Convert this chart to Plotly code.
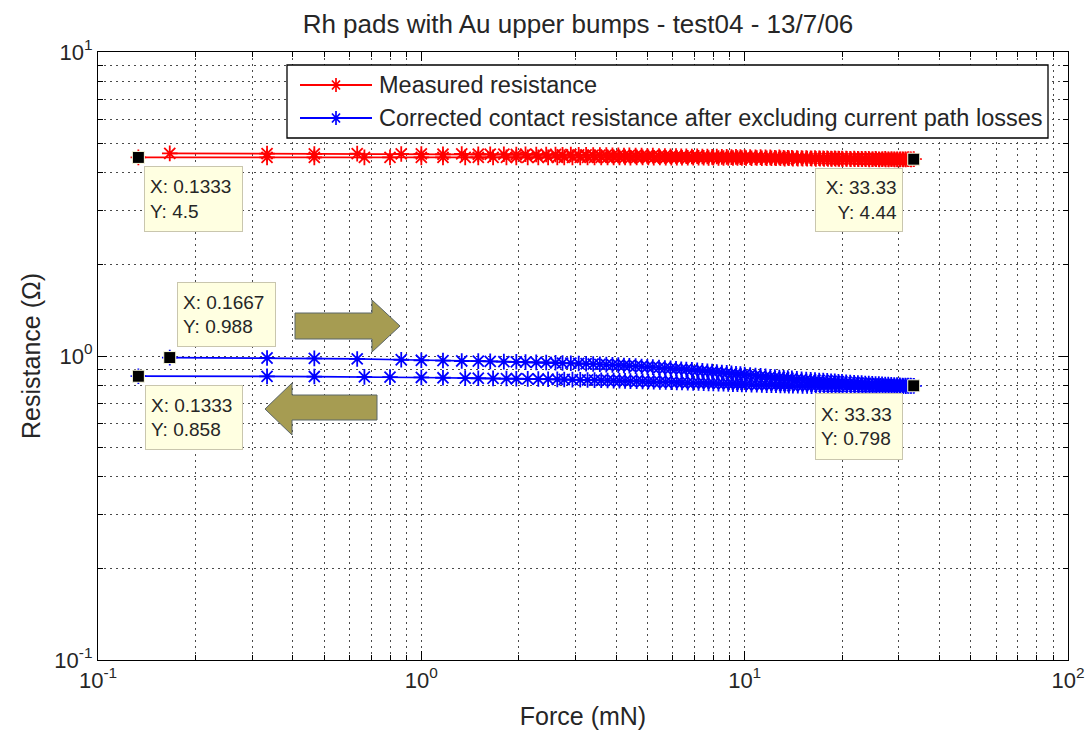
import plotly.graph_objects as go

# ---------------- data ----------------
force_up = [0.1667, 0.3333, 0.4667, 0.6333, 0.8667, 1.0, 1.1667, 1.3333, 1.5, 1.6333,
            1.8, 1.9667, 2.1, 2.2667, 2.4333, 2.6, 2.7333, 2.9, 3.0667, 3.2333,
            3.4, 3.5667, 3.7333, 3.9, 4.0667, 4.2333, 4.4, 4.6, 4.8, 5.0,
            5.2, 5.4333, 5.6667, 5.9, 6.1333, 6.3667, 6.6, 6.8667, 7.1333, 7.4,
            7.6667, 7.9333, 8.2, 8.5, 8.8, 9.1, 9.4, 9.7, 10.0, 10.4,
            10.8, 11.2, 11.6, 12.0, 12.4, 12.8, 13.2, 13.6, 14.0, 14.5,
            15.0, 15.5, 16.0, 16.5, 17.0, 17.5, 18.0, 18.5, 19.0, 19.5,
            20.0, 20.6, 21.2, 21.8, 22.4, 23.0, 23.6, 24.2, 24.8, 25.4,
            26.0, 26.6, 27.2, 27.8, 28.4, 29.0, 29.6, 30.2, 30.8, 31.4,
            32.0, 32.6, 33.33]

force_down = [33.33, 32.7, 32.1, 31.5, 30.9, 30.3, 29.7, 29.1, 28.5, 27.9,
              27.3, 26.7, 26.1, 25.5, 24.9, 24.3, 23.7, 23.1, 22.5, 21.9,
              21.3, 20.7, 20.1, 19.6, 19.1, 18.6, 18.1, 17.6, 17.1, 16.6,
              16.1, 15.6, 15.1, 14.6, 14.1, 13.7, 13.3, 12.9, 12.5, 12.1,
              11.7, 11.3, 10.9, 10.5, 10.1, 9.8, 9.5, 9.2, 8.9, 8.6,
              8.3, 8.0, 7.7333, 7.4667, 7.2, 6.9333, 6.6667, 6.4, 6.1667, 5.9333,
              5.7, 5.4667, 5.2333, 5.0333, 4.8333, 4.6333, 4.4333, 4.2667, 4.1, 3.9333,
              3.7667, 3.6, 3.4333, 3.2667, 3.1, 2.9333, 2.7667, 2.6333, 2.4667, 2.3,
              2.1333, 1.9667, 1.8333, 1.6667, 1.5, 1.3667, 1.1667, 1.0, 0.8, 0.6667,
              0.4667, 0.3333, 0.1333]

r_meas_up = [4.64, 4.63, 4.62, 4.63, 4.62, 4.62, 4.61, 4.62, 4.61, 4.61,
             4.61, 4.60, 4.61, 4.60, 4.60, 4.60, 4.59, 4.60, 4.59, 4.59,
             4.58, 4.58, 4.58, 4.57, 4.57, 4.56, 4.57, 4.56, 4.56, 4.55,
             4.56, 4.55, 4.55, 4.54, 4.55, 4.54, 4.54, 4.53, 4.54, 4.53,
             4.53, 4.52, 4.53, 4.52, 4.52, 4.51, 4.52, 4.51, 4.51, 4.51,
             4.50, 4.51, 4.50, 4.50, 4.49, 4.50, 4.49, 4.49, 4.49, 4.48,
             4.48, 4.48, 4.47, 4.48, 4.47, 4.47, 4.47, 4.46, 4.47, 4.46,
             4.46, 4.46, 4.45, 4.46, 4.45, 4.45, 4.45, 4.45, 4.44, 4.45,
             4.44, 4.44, 4.45, 4.44, 4.44, 4.44, 4.44, 4.43, 4.44, 4.44,
             4.44, 4.44, 4.44]

r_meas_down = [4.44, 4.43, 4.44, 4.43, 4.43, 4.44, 4.43, 4.43, 4.44, 4.43,
               4.43, 4.44, 4.43, 4.44, 4.44, 4.43, 4.44, 4.44, 4.44, 4.44,
               4.44, 4.45, 4.44, 4.45, 4.45, 4.45, 4.45, 4.45, 4.46, 4.45,
               4.46, 4.46, 4.46, 4.46, 4.46, 4.47, 4.46, 4.47, 4.47, 4.47,
               4.47, 4.47, 4.48, 4.47, 4.48, 4.48, 4.48, 4.48, 4.48, 4.48,
               4.48, 4.49, 4.48, 4.49, 4.49, 4.49, 4.49, 4.49, 4.49, 4.49,
               4.49, 4.50, 4.49, 4.50, 4.50, 4.50, 4.49, 4.50, 4.50, 4.50,
               4.50, 4.50, 4.50, 4.50, 4.50, 4.50, 4.50, 4.50, 4.50, 4.50,
               4.50, 4.50, 4.50, 4.50, 4.50, 4.50, 4.50, 4.50, 4.50, 4.50,
               4.50, 4.50, 4.50]

r_corr_up = [0.988, 0.985, 0.982, 0.978, 0.972, 0.968, 0.966, 0.963, 0.962, 0.960,
             0.958, 0.957, 0.955, 0.953, 0.952, 0.950, 0.948, 0.947, 0.945, 0.943,
             0.941, 0.939, 0.937, 0.935, 0.933, 0.931, 0.929, 0.926, 0.924, 0.921,
             0.919, 0.916, 0.913, 0.911, 0.908, 0.905, 0.903, 0.900, 0.897, 0.894,
             0.891, 0.889, 0.886, 0.883, 0.880, 0.877, 0.874, 0.872, 0.869, 0.866,
             0.863, 0.860, 0.857, 0.855, 0.852, 0.850, 0.848, 0.846, 0.844, 0.841,
             0.839, 0.837, 0.835, 0.833, 0.831, 0.830, 0.828, 0.826, 0.825, 0.823,
             0.822, 0.820, 0.818, 0.817, 0.815, 0.814, 0.812, 0.811, 0.810, 0.809,
             0.808, 0.807, 0.806, 0.805, 0.804, 0.803, 0.802, 0.801, 0.800, 0.800,
             0.799, 0.799, 0.798]

r_corr_down = [0.798, 0.797, 0.797, 0.796, 0.796, 0.795, 0.795, 0.795, 0.794, 0.794,
               0.794, 0.794, 0.793, 0.793, 0.793, 0.793, 0.793, 0.793, 0.793, 0.793,
               0.793, 0.793, 0.794, 0.794, 0.794, 0.794, 0.795, 0.795, 0.795, 0.796,
               0.796, 0.797, 0.797, 0.798, 0.798, 0.799, 0.800, 0.800, 0.801, 0.802,
               0.802, 0.803, 0.804, 0.805, 0.806, 0.806, 0.807, 0.808, 0.809, 0.810,
               0.811, 0.812, 0.813, 0.814, 0.815, 0.816, 0.817, 0.818, 0.819, 0.820,
               0.821, 0.822, 0.823, 0.824, 0.825, 0.826, 0.827, 0.828, 0.829, 0.830,
               0.831, 0.832, 0.833, 0.834, 0.835, 0.836, 0.837, 0.838, 0.839, 0.840,
               0.841, 0.842, 0.843, 0.844, 0.845, 0.846, 0.848, 0.850, 0.852, 0.854,
               0.856, 0.857, 0.858]

tip_x = [0.1333, 33.33, 0.1667, 0.1333, 33.33]
tip_y = [4.5, 4.44, 0.988, 0.858, 0.798]

series_names = ["Measured resistance",
                "Corrected contact resistance after excluding current path losses"]
series_colors = ["#FF0000", "#0000FF"]

title_text = "Rh pads with Au upper bumps - test04 - 13/7/06"
x_title = "Force (mN)"
y_title = "Resistance (Ω)"
x_tickvals = [0.1, 1, 10, 100]
x_ticktext = ["10<sup>-1</sup>", "10<sup>0</sup>", "10<sup>1</sup>", "10<sup>2</sup>"]
y_tickvals = [0.1, 1, 10]
y_ticktext = ["10<sup>-1</sup>", "10<sup>0</sup>", "10<sup>1</sup>"]
x_minor = [m * d for d in (0.1, 1, 10) for m in range(2, 10)]
y_minor = [m * d for d in (0.1, 1) for m in range(2, 10)]

# ---------------- layout helpers ----------------
W, H = 1092, 742
ML, MR, MT, MB = 98, 24, 52, 82
FONT = "Liberation Sans, Arial, sans-serif"
TXT = "#262626"


def px(x):
    return (x - ML) / (W - ML - MR)


def py(y):
    return (H - MB - y) / (H - MT - MB)


fig = go.Figure()

star = dict(symbol="asterisk-open", size=13)
for xs, ys, col in [(force_up, r_meas_up, series_colors[0]),
                    (force_down, r_meas_down, series_colors[0]),
                    (force_up, r_corr_up, series_colors[1]),
                    (force_down, r_corr_down, series_colors[1])]:
    fig.add_trace(go.Scatter(
        x=xs, y=ys, mode="lines+markers",
        line=dict(color=col, width=1.7),
        marker=dict(color=col, line=dict(color=col, width=1.8), **star),
        showlegend=False, hoverinfo="skip"))

fig.add_trace(go.Scatter(
    x=tip_x, y=tip_y, mode="markers",
    marker=dict(symbol="square", size=12, color="black",
                line=dict(color="#FFFFE1", width=1)),
    showlegend=False, hoverinfo="skip"))

# ---------------- datatip boxes ----------------
tip_boxes = [(144, 166, 99, 66, "left"),
             (815, 168, 88, 64, "right"),
             (177, 282, 99, 65, "left"),
             (145, 385, 98, 65, "left"),
             (815, 393, 88, 67, "left")]
annotations = []
pad = 5
for (bx, by, bw, bh, al), tx, ty in zip(tip_boxes, tip_x, tip_y):
    annotations.append(dict(
        xref="paper", yref="paper", x=px(bx), y=py(by),
        xanchor="left", yanchor="top",
        text=f"X: {tx}<br>Y: {ty}", align=al, valign="middle",
        width=bw - 2 * pad - 2, height=bh - 2 * pad - 2,
        showarrow=False, bgcolor="#FFFFE1", bordercolor="#C9C6AE",
        borderwidth=1, borderpad=pad,
        font=dict(family=FONT, size=19, color=TXT)))

# ---------------- manual legend ----------------
shapes = []
leg_x0, leg_y0, leg_x1, leg_y1 = 287, 65, 1048, 138
shapes.append(dict(type="rect", xref="paper", yref="paper",
                   x0=px(leg_x0), x1=px(leg_x1), y0=py(leg_y0), y1=py(leg_y1),
                   line=dict(color="black", width=1.3), fillcolor="white",
                   layer="above"))
for row_y, name, col in zip([85, 118], series_names, series_colors):
    shapes.append(dict(type="line", xref="paper", yref="paper",
                       x0=px(300), x1=px(372), y0=py(row_y), y1=py(row_y),
                       line=dict(color=col, width=1.8), layer="above"))
    cx, cy = 336, row_y
    path = (f"M{px(cx)},{py(cy - 7)} L{px(cx)},{py(cy + 7)} "
            f"M{px(cx - 5)},{py(cy)} L{px(cx + 5)},{py(cy)} "
            f"M{px(cx - 4)},{py(cy - 4.5)} L{px(cx + 4)},{py(cy + 4.5)} "
            f"M{px(cx - 4)},{py(cy + 4.5)} L{px(cx + 4)},{py(cy - 4.5)}")
    shapes.append(dict(type="path", xref="paper", yref="paper", path=path,
                       line=dict(color=col, width=1.7), layer="above"))
    annotations.append(dict(xref="paper", yref="paper", x=px(377), y=py(row_y),
                            xanchor="left", yanchor="middle", text=name,
                            showarrow=False,
                            font=dict(family=FONT, size=23.5, color=TXT)))

# ---------------- arrows ----------------
arrow_right = [(295, 313), (372, 313), (372, 300), (400, 326), (372, 352), (372, 339), (295, 339)]
arrow_left = [(377, 395), (292, 395), (292, 383), (265, 409), (292, 435), (292, 420), (377, 420)]
for poly in (arrow_right, arrow_left):
    path = "M" + " L".join(f"{px(a)},{py(b)}" for a, b in poly) + " Z"
    shapes.append(dict(type="path", xref="paper", yref="paper", path=path,
                       fillcolor="#A69C52", line=dict(color="#5B6669", width=1),
                       layer="above"))

grid = dict(showgrid=True, gridcolor="#4a4a4a", gridwidth=1, griddash="2px,4px")

fig.update_layout(
    width=W, height=H,
    margin=dict(l=ML, r=MR, t=MT, b=MB, autoexpand=False),
    paper_bgcolor="white", plot_bgcolor="white",
    font=dict(family=FONT, color=TXT, size=22),
    title=dict(text=title_text, x=px(578), xanchor="center",
               y=1 - 24 / H, yanchor="middle", xref="paper",
               font=dict(family=FONT, size=26, color=TXT)),
    xaxis=dict(type="log", range=[-1, 2], tickmode="array",
               tickvals=x_tickvals, ticktext=x_ticktext,
               ticks="inside", ticklen=9, tickcolor="black", tickwidth=1,
               showline=True, linecolor="black", linewidth=1.3, mirror="ticks",
               tickfont=dict(size=22, color=TXT),
               minor=dict(tickvals=x_minor, ticks="inside", ticklen=5,
                          tickcolor="black", **grid),
               title=dict(text=x_title, standoff=15,
                          font=dict(size=25, color=TXT)),
               automargin=False, zeroline=False, **grid),
    yaxis=dict(type="log", range=[-1, 1], tickmode="array",
               tickvals=y_tickvals, ticktext=y_ticktext,
               ticks="inside", ticklen=9, tickcolor="black", tickwidth=1,
               showline=True, linecolor="black", linewidth=1.3, mirror="ticks",
               tickfont=dict(size=22, color=TXT),
               minor=dict(tickvals=y_minor, ticks="inside", ticklen=5,
                          tickcolor="black", **grid),
               title=dict(text=y_title, standoff=6,
                          font=dict(size=25, color=TXT)),
               automargin=False, zeroline=False, **grid),
    shapes=shapes,
    annotations=annotations,
    showlegend=False,
)

fig.write_html("out.html")
